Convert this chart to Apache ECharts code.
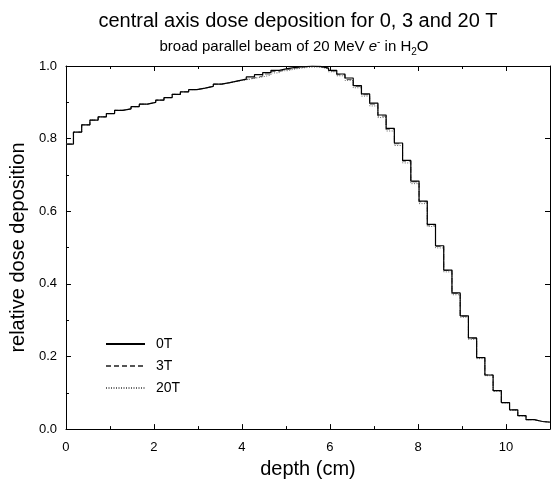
<!DOCTYPE html>
<html>
<head>
<meta charset="utf-8">
<script src="https://cdn.jsdelivr.net/npm/echarts@6/dist/echarts.min.js"></script>
<style>html,body{margin:0;padding:0;background:#fff}#c{width:553px;height:484px}</style>
</head>
<body>
<div id="c"></div>
<script>
// left edges of the depth bins (cm); last bin ends at depthEnd
const binLeft = [0, 0.17, 0.357, 0.544, 0.731, 0.918, 1.105, 1.292, 1.479, 1.666, 1.853, 2.04, 2.227, 2.414, 2.601, 2.788, 2.975, 3.162, 3.349, 3.536, 3.723, 3.91, 4.097, 4.284, 4.471, 4.658, 4.845, 5.032, 5.219, 5.406, 5.593, 5.78, 5.967, 6.154, 6.341, 6.528, 6.715, 6.902, 7.089, 7.276, 7.463, 7.65, 7.837, 8.024, 8.211, 8.398, 8.585, 8.772, 8.959, 9.146, 9.333, 9.52, 9.707, 9.894, 10.081, 10.268, 10.455, 10.642, 10.829];
const depthEnd = 11;
const dose0T = [0.785,0.818,0.838,0.851,0.860,0.869,0.878,0.882,0.888,0.895,0.900,0.906,0.913,0.922,0.929,0.935,0.939,0.944,0.950,0.954,0.959,0.964,0.970,0.976,0.982,0.988,0.993,0.996,0.998,1.000,0.999,0.994,0.988,0.978,0.967,0.946,0.923,0.898,0.865,0.828,0.788,0.740,0.683,0.628,0.564,0.505,0.438,0.375,0.312,0.251,0.197,0.149,0.106,0.073,0.053,0.037,0.026,0.021,0.019];
const dose3T = [0.785,0.818,0.838,0.851,0.860,0.869,0.878,0.882,0.888,0.895,0.900,0.906,0.913,0.922,0.929,0.935,0.939,0.944,0.950,0.954,0.959,0.963,0.967,0.972,0.978,0.985,0.990,0.994,0.997,0.999,0.998,0.994,0.986,0.976,0.963,0.944,0.921,0.895,0.862,0.826,0.786,0.738,0.681,0.626,0.562,0.503,0.437,0.374,0.311,0.250,0.197,0.149,0.106,0.073,0.053,0.037,0.026,0.021,0.019];
const dose20T = [0.785,0.818,0.838,0.851,0.860,0.869,0.878,0.882,0.888,0.895,0.900,0.906,0.913,0.922,0.929,0.935,0.939,0.944,0.950,0.954,0.958,0.962,0.966,0.970,0.975,0.981,0.987,0.992,0.995,0.997,0.997,0.992,0.984,0.973,0.960,0.940,0.917,0.890,0.858,0.821,0.781,0.733,0.676,0.621,0.558,0.499,0.433,0.370,0.308,0.247,0.194,0.147,0.104,0.072,0.052,0.036,0.026,0.021,0.019];
const seriesNames = ['0T', '3T', '20T'];
const xTicks = [0, 2, 4, 6, 8, 10];

function steps(vals) {
  const d = binLeft.map((x, i) => [x, vals[i]]);
  d.push([depthEnd, vals[vals.length - 1]]);
  return d;
}

const chart = echarts.init(document.getElementById('c'), null, {renderer: 'canvas'});
const font = '"Liberation Sans", Arial, Helvetica, sans-serif';
const axisCommon = {
  axisLine: {show: true, onZero: false, lineStyle: {color: '#000', width: 1}},
  splitLine: {show: false}
};
chart.setOption({
  animation: false,
  backgroundColor: '#fff',
  textStyle: {fontFamily: font, color: '#000'},
  title: [
    {text: 'central axis dose deposition for 0, 3 and 20 T', left: 293, top: 6, textAlign: 'center',
     textStyle: {fontFamily: font, fontSize: 20, fontWeight: 'normal', color: '#000'}},
    {text: '{n|broad parallel beam of 20 MeV }{it|e}{sup|-}{n| in H}{sub|2}{n|O}', left: 289, top: 32, textAlign: 'center',
     textStyle: {fontFamily: font, fontSize: 15, fontWeight: 'normal', color: '#000',
       rich: {
         n: {fontFamily: font, fontSize: 15, color: '#000', lineHeight: 20, verticalAlign: 'middle'},
         it: {fontFamily: font, fontSize: 15, fontStyle: 'italic', color: '#000', lineHeight: 20, verticalAlign: 'middle'},
         sup: {fontFamily: font, fontSize: 10, color: '#000', lineHeight: 20, verticalAlign: 'top', padding: [0, 0, 8, 0]},
         sub: {fontFamily: font, fontSize: 10, color: '#000', lineHeight: 20, verticalAlign: 'bottom', padding: [6, 0, 0, 0]}
       }}}
  ],
  grid: {left: 63, right: 1, top: 66, bottom: 40, containLabel: false},
  legend: {
    data: seriesNames, orient: 'vertical', left: 100, top: 332, itemWidth: 39, itemHeight: 12, itemGap: 8,
    itemStyle: {opacity: 0},
    textStyle: {fontFamily: font, fontSize: 14, color: '#000', padding: [0, 0, 0, 6]}
  },
  xAxis: [
    Object.assign({}, axisCommon, {
      type: 'value', min: 0, max: 11, interval: 2, position: 'bottom',
      name: 'depth (cm)', nameLocation: 'middle', nameGap: 22,
      nameTextStyle: {fontFamily: font, fontSize: 20, color: '#000'},
      axisTick: {show: true, inside: true, length: 5, lineStyle: {color: '#000'}},
      minorTick: {show: true, splitNumber: 2, length: 3, lineStyle: {color: '#000'}},
      axisLabel: {fontFamily: font, fontSize: 13, color: '#000', margin: 12,
        formatter: v => (xTicks.indexOf(v) >= 0 ? String(v) : '')}
    }),
    Object.assign({}, axisCommon, {
      type: 'value', min: 0, max: 11, interval: 2, position: 'top',
      axisTick: {show: true, inside: true, length: 5, lineStyle: {color: '#000'}},
      minorTick: {show: true, splitNumber: 2, length: 3, lineStyle: {color: '#000'}},
      axisLabel: {show: false}
    })
  ],
  yAxis: [
    Object.assign({}, axisCommon, {
      type: 'value', min: 0, max: 1, interval: 0.2, position: 'left',
      name: 'relative dose deposition', nameLocation: 'middle', nameGap: 30,
      nameTextStyle: {fontFamily: font, fontSize: 20, color: '#000'},
      axisTick: {show: true, inside: true, length: 5, lineStyle: {color: '#000'}},
      minorTick: {show: true, splitNumber: 2, length: 3, lineStyle: {color: '#000'}},
      axisLabel: {fontFamily: font, fontSize: 13, color: '#000', margin: 9, formatter: v => v.toFixed(1)}
    }),
    Object.assign({}, axisCommon, {
      type: 'value', min: 0, max: 1, interval: 0.2, position: 'right',
      axisTick: {show: true, inside: true, length: 5, lineStyle: {color: '#000'}},
      axisLabel: {show: false}
    })
  ],
  series: [
    {name: seriesNames[0], type: 'line', step: 'end', symbol: 'none', data: steps(dose0T),
     lineStyle: {color: '#000', width: 1.2, type: 'solid'}, itemStyle: {color: '#000'}, z: 5},
    {name: seriesNames[1], type: 'line', step: 'end', symbol: 'none', data: steps(dose3T),
     lineStyle: {color: '#555', width: 1, type: [5, 3]}, itemStyle: {color: '#555'}, z: 4},
    {name: seriesNames[2], type: 'line', step: 'end', symbol: 'none', data: steps(dose20T),
     lineStyle: {color: '#666', width: 1, type: [1, 1.5]}, itemStyle: {color: '#666'}, z: 3}
  ]
});
</script>
</body>
</html>
